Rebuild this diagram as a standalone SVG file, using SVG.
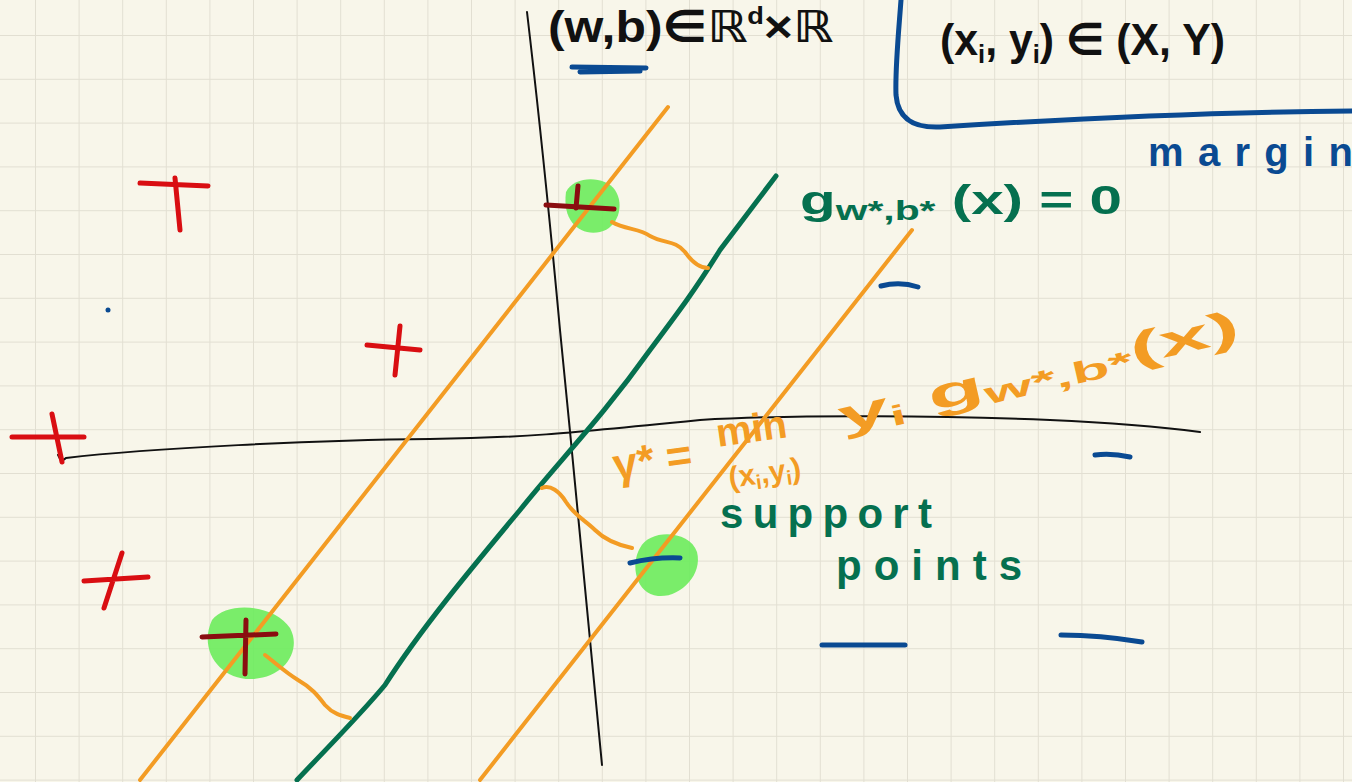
<svg xmlns="http://www.w3.org/2000/svg" width="1352" height="782" viewBox="0 0 1352 782">
<defs>
<pattern id="grid" patternUnits="userSpaceOnUse" x="35" y="35" width="43.6" height="43.8">
<path d="M0 0 V43.8 M0 0 H43.6" fill="none" stroke="#e2dfd2" stroke-width="2"/>
</pattern>
<style>
.ax{fill:none;stroke:#111;stroke-width:2;stroke-linecap:round}
.or{fill:none;stroke:#f39c24;stroke-width:4;stroke-linecap:round;stroke-linejoin:round}
.gr{fill:none;stroke:#05704f;stroke-width:5;stroke-linecap:round}
.rd{fill:none;stroke:#d90e12;stroke-width:5;stroke-linecap:round}
.dr{fill:none;stroke:#8a0d10;stroke-width:5;stroke-linecap:round}
.bl{fill:none;stroke:#0a4a92;stroke-width:5;stroke-linecap:round}
.hl{fill:#6bec5c;opacity:0.9}
.t{font-family:"Liberation Sans","DejaVu Sans",sans-serif;font-weight:bold}
.tk{fill:#111}
.tg{fill:#05704f}
.to{fill:#f39c24}
.tb{fill:#0a4a92}
</style>
</defs>
<rect width="1352" height="782" fill="#f8f6ea"/>
<rect width="1352" height="782" fill="url(#grid)"/>

<g id="highlights">
<path class="hl" d="M566 192 C575 175 605 176 615 190 C625 205 618 228 600 232 C580 236 562 222 566 192 Z"/>
<path class="hl" d="M640 548 C650 528 690 530 697 552 C703 575 680 598 658 596 C636 594 630 565 640 548 Z"/>
<path class="hl" d="M212 620 C228 600 275 605 290 628 C302 650 285 678 252 679 C220 680 198 650 212 620 Z"/>
</g>

<g id="axes">
<path class="ax" d="M527 12 C535 80 548 200 560 330 C575 480 590 640 602 765"/>
<path class="ax" d="M58 455 C60 460 62 462 66 458 C150 448 320 440 430 439 C520 438 560 434 700 420 C800 414 950 416 1050 420 C1120 423 1170 428 1200 432"/>
</g>

<g id="lines">
<path class="or" d="M140 780 L668 107"/>
<path class="gr" d="M297 780 C330 745 360 715 385 685 C420 630 470 570 520 510 C560 460 600 420 650 350 C680 310 695 290 720 250 L776 176"/>
<path class="or" d="M480 780 L912 230"/>
</g>

<g id="connectors">
<path class="or" d="M612 222 C625 230 640 228 650 236 C665 244 675 240 685 252 C692 262 700 268 708 268"/>
<path class="or" d="M542 488 C550 484 560 492 566 502 C575 516 585 520 595 530 C605 540 618 545 632 548"/>
<path class="or" d="M265 655 C278 665 285 672 298 680 C312 688 318 696 325 705 C333 714 342 716 350 718"/>
</g>

<g id="plus-signs">
<path class="rd" d="M140 183 L208 186 M175 178 L180 230"/>
<path class="rd" d="M367 345 L420 350 M400 326 L395 375"/>
<path class="rd" d="M12 437 L84 437 M52 414 L62 462"/>
<path class="rd" d="M84 581 L148 577 M122 553 L104 608"/>
<path class="dr" d="M546 205 L614 209 M578 186 L576 208"/>
<path class="dr" d="M202 637 L276 634 M246 620 L245 674"/>
</g>

<g id="minus-signs">
<path class="bl" d="M881 286 Q900 281 918 287"/>
<path class="bl" d="M1095 455 Q1112 453 1130 457"/>
<path class="bl" d="M822 645 L905 645"/>
<path class="bl" d="M1061 635 Q1100 635 1142 642"/>
<path class="bl" d="M630 563 Q655 557 680 558"/>
<circle cx="108" cy="310" r="2.5" fill="#0a4a92"/>
<path class="bl" d="M572 67 L646 68 M580 72 L640 71"/>
<path class="bl" d="M901 0 C898 40 895 70 896 95 C898 120 915 128 940 127 C1050 120 1200 112 1352 111"/>
</g>

<g id="labels">
<text class="t tk" x="548" y="42" font-size="44" textLength="285" lengthAdjust="spacingAndGlyphs">(w,b)∈ℝ<tspan font-size="24" dy="-18">d</tspan><tspan dy="18">×ℝ</tspan></text>
<text class="t tk" x="940" y="55" font-size="44" textLength="285" lengthAdjust="spacingAndGlyphs">(x<tspan font-size="26" dy="8">i</tspan><tspan dy="-8">, y</tspan><tspan font-size="26" dy="8">i</tspan><tspan dy="-8">) ∈ (X, Y)</tspan></text>
<text class="t tb" x="1148" y="166" font-size="40" textLength="205" lengthAdjust="spacing">margin</text>
<text class="t tg" x="800" y="214" font-size="40" textLength="322" lengthAdjust="spacingAndGlyphs">g<tspan font-size="28" dy="6">w*,b*</tspan><tspan dy="-6"> (x) = 0</tspan></text>
<text class="t to" x="615" y="480" font-size="44" transform="rotate(-8 615 480)">γ* =</text>
<text class="t to" x="718" y="447" font-size="40" transform="rotate(-8 718 447)">min</text>
<text class="t to" x="730" y="488" font-size="30" transform="rotate(-8 730 488)">(x<tspan font-size="20" dy="5">i</tspan><tspan dy="-5">,y</tspan><tspan font-size="20" dy="5">i</tspan><tspan dy="-5">)</tspan></text>
<text class="t to" x="842" y="432" font-size="44" transform="rotate(-13 842 432)" textLength="410" lengthAdjust="spacingAndGlyphs">y<tspan font-size="28" dy="6">i</tspan><tspan dy="-6"> g</tspan><tspan font-size="30" dy="6">w*,b*</tspan><tspan dy="-6">(x)</tspan></text>
<text class="t tg" x="720" y="528" font-size="42" textLength="212" lengthAdjust="spacing">support</text>
<text class="t tg" x="836" y="580" font-size="42" textLength="186" lengthAdjust="spacing">points</text>
</g>
</svg>
